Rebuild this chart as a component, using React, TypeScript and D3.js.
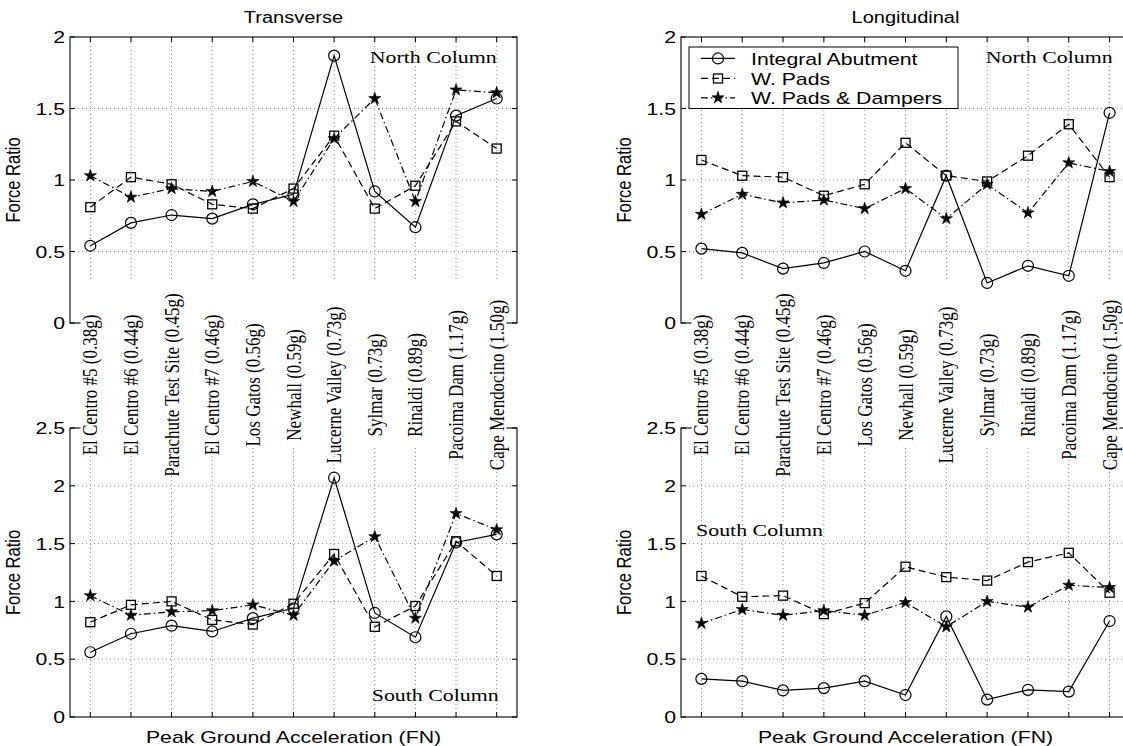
import React from "react";
import * as d3 from "d3";

// earthquake records, in the order they sit on the x axis
const categories = [
  "El Centro #5 (0.38g)",
  "El Centro #6 (0.44g)",
  "Parachute Test Site (0.45g)",
  "El Centro #7 (0.46g)",
  "Los Gatos (0.56g)",
  "Newhall (0.59g)",
  "Lucerne Valley (0.73g)",
  "Sylmar (0.73g)",
  "Rinaldi (0.89g)",
  "Pacoima Dam (1.17g)",
  "Cape Mendocino (1.50g)",
];

const seriesNames = ["Integral Abutment", "W. Pads", "W. Pads & Dampers"];

// Transverse, north column
const transNorthIntegral = [0.54, 0.7, 0.755, 0.73, 0.83, 0.9, 1.87, 0.92, 0.67, 1.45, 1.57];
const transNorthPads = [0.81, 1.02, 0.97, 0.83, 0.8, 0.94, 1.31, 0.8, 0.96, 1.41, 1.22];
const transNorthDampers = [1.03, 0.88, 0.94, 0.92, 0.99, 0.85, 1.29, 1.57, 0.85, 1.63, 1.61];

// Longitudinal, north column
const longNorthIntegral = [0.52, 0.49, 0.38, 0.42, 0.5, 0.365, 1.03, 0.28, 0.4, 0.33, 1.47];
const longNorthPads = [1.14, 1.03, 1.02, 0.89, 0.97, 1.26, 1.03, 0.99, 1.17, 1.39, 1.02];
const longNorthDampers = [0.76, 0.9, 0.84, 0.86, 0.8, 0.94, 0.73, 0.97, 0.77, 1.12, 1.06];

// Transverse, south column
const transSouthIntegral = [0.56, 0.72, 0.79, 0.74, 0.855, 0.94, 2.07, 0.9, 0.69, 1.51, 1.58];
const transSouthPads = [0.82, 0.97, 1.0, 0.84, 0.8, 0.98, 1.41, 0.78, 0.96, 1.52, 1.22];
const transSouthDampers = [1.05, 0.88, 0.91, 0.92, 0.97, 0.88, 1.35, 1.56, 0.855, 1.76, 1.62];

// Longitudinal, south column
const longSouthIntegral = [0.33, 0.31, 0.23, 0.25, 0.31, 0.19, 0.87, 0.15, 0.235, 0.22, 0.83];
const longSouthPads = [1.22, 1.04, 1.05, 0.89, 0.985, 1.3, 1.21, 1.18, 1.34, 1.42, 1.075];
const longSouthDampers = [0.81, 0.93, 0.88, 0.92, 0.88, 0.99, 0.78, 1.0, 0.95, 1.14, 1.12];

const topTicks = [0, 0.5, 1, 1.5, 2];
const bottomTicks = [0, 0.5, 1, 1.5, 2, 2.5];

const SANS = "'Liberation Sans', Arial, Helvetica, sans-serif";
const SERIF = "'Liberation Serif', 'Times New Roman', serif";
const STRETCH = 1.25; // the scanned figure is a bit wider than tall

const xLeft = d3.scaleLinear().domain([0.5, 11.5]).range([70, 517]);
const xRight = d3.scaleLinear().domain([0.5, 11.5]).range([681, 1130]);
const yTop = d3.scaleLinear().domain([0, 2]).range([323, 37]);
const yBottom = d3.scaleLinear().domain([0, 2.5]).range([717, 428]);

const styles = [
  { dash: undefined, marker: "circle" },
  { dash: "7,4", marker: "square" },
  { dash: "7,3,1.5,3", marker: "star" },
];

const starPath = d3.symbol(d3.symbolStar, 46)() as string;

function Marker({ kind, x, y }: { kind: string; x: number; y: number }) {
  if (kind === "circle")
    return <circle cx={x} cy={y} r={5.5} fill="none" stroke="#000" strokeWidth={1.2} />;
  if (kind === "square")
    return <rect x={x - 4.5} y={y - 4.5} width={9} height={9} fill="none" stroke="#000" strokeWidth={1.3} />;
  return <path d={starPath} transform={`translate(${x},${y})`} fill="#000" stroke="#000" strokeWidth={0.6} />;
}

function SText(props: any) {
  const { x, y, size, family, anchor, rotate, dy, children } = props;
  const t = `translate(${x},${y}) scale(${STRETCH},1)` + (rotate ? " rotate(-90)" : "");
  return (
    <text transform={t} fontSize={size} fontFamily={family || SANS} textAnchor={anchor || "start"} dy={dy} fill="#000">
      {children}
    </text>
  );
}

function Frame({ xs, ys, ticks }: any) {
  const [x0, x1] = xs.range();
  const [yb, yt] = ys.range();
  const cats = categories.map((_, i) => i + 1);
  return (
    <g>
      {cats.map((c) => (
        <line key={"gv" + c} x1={xs(c)} x2={xs(c)} y1={yb} y2={yt} stroke="#777" strokeWidth={0.8} strokeDasharray="1,3" />
      ))}
      {ticks.slice(1, -1).map((t: number) => (
        <line key={"gh" + t} x1={x0} x2={x1} y1={ys(t)} y2={ys(t)} stroke="#777" strokeWidth={0.8} strokeDasharray="1,3" />
      ))}
      {cats.map((c) => (
        <g key={"tx" + c}>
          <line x1={xs(c)} x2={xs(c)} y1={yb} y2={yb - 5} stroke="#000" />
          <line x1={xs(c)} x2={xs(c)} y1={yt} y2={yt + 5} stroke="#000" />
        </g>
      ))}
      {ticks.map((t: number) => (
        <g key={"ty" + t}>
          <line x1={x0} x2={x0 + 5} y1={ys(t)} y2={ys(t)} stroke="#000" />
          <line x1={x1} x2={x1 - 5} y1={ys(t)} y2={ys(t)} stroke="#000" />
          <SText x={x0 - 5} y={ys(t)} size={17} anchor="end" dy="0.36em">
            {String(t)}
          </SText>
        </g>
      ))}
      <rect x={x0} y={yt} width={x1 - x0} height={yb - yt} fill="none" stroke="#000" strokeWidth={1.1} />
      <SText x={x0 - 50} y={(yb + yt) / 2} size={16.5} anchor="middle" rotate>
        Force Ratio
      </SText>
    </g>
  );
}

function Series({ xs, ys, data }: any) {
  return (
    <g>
      {data.map((vals: number[], s: number) => {
        const line = d3
          .line<number>()
          .x((_, i) => xs(i + 1))
          .y((d) => ys(d));
        return (
          <g key={s}>
            <path d={line(vals) as string} fill="none" stroke="#000" strokeWidth={1.2} strokeDasharray={styles[s].dash} />
            {vals.map((v, i) => (
              <Marker key={i} kind={styles[s].marker} x={xs(i + 1)} y={ys(v)} />
            ))}
          </g>
        );
      })}
    </g>
  );
}

const panels = [
  { xs: xLeft, ys: yTop, ticks: topTicks, data: [transNorthIntegral, transNorthPads, transNorthDampers] },
  { xs: xRight, ys: yTop, ticks: topTicks, data: [longNorthIntegral, longNorthPads, longNorthDampers] },
  { xs: xLeft, ys: yBottom, ticks: bottomTicks, data: [transSouthIntegral, transSouthPads, transSouthDampers] },
  { xs: xRight, ys: yBottom, ticks: bottomTicks, data: [longSouthIntegral, longSouthPads, longSouthDampers] },
];

function LabelBand({ xs }: any) {
  return (
    <g>
      <rect x={xs(0.76)} y={280} width={xs(11.24) - xs(0.76)} height={165} fill="#fff" />
      {categories.map((c, i) => (
        <SText key={c} x={xs(i + 1)} y={385} size={17} family={SERIF} anchor="middle" dy="0.33em" rotate>
          {c}
        </SText>
      ))}
    </g>
  );
}

function Legend() {
  const lx = 689, ly = 47;
  const rows = [yTop(1.85), yTop(1.71), yTop(1.575)];
  return (
    <g>
      <rect x={lx} y={ly} width={269} height={yTop(1.5) - ly} fill="#fff" stroke="#000" strokeWidth={1} />
      {seriesNames.map((n, s) => (
        <g key={n}>
          <line x1={lx + 12} x2={lx + 46} y1={rows[s]} y2={rows[s]} stroke="#000" strokeWidth={1.2} strokeDasharray={styles[s].dash} />
          <Marker kind={styles[s].marker} x={lx + 29} y={rows[s]} />
          <SText x={lx + 62} y={rows[s]} size={17} dy="0.36em">
            {n}
          </SText>
        </g>
      ))}
    </g>
  );
}

export default function App() {
  return (
    <svg width={1123} height={746} style={{ position: "absolute", left: 0, top: 0, background: "#fff" }}>
      <rect width={1123} height={746} fill="#fff" />
      {panels.map((p, k) => (
        <Frame key={k} xs={p.xs} ys={p.ys} ticks={p.ticks} />
      ))}
      <LabelBand xs={xLeft} />
      <LabelBand xs={xRight} />
      {panels.map((p, k) => (
        <Series key={k} xs={p.xs} ys={p.ys} data={p.data} />
      ))}
      <Legend />

      <SText x={(70 + 517) / 2} y={23} size={16} anchor="middle">Transverse</SText>
      <SText x={(681 + 1130) / 2} y={23} size={16} anchor="middle">Longitudinal</SText>

      <SText x={xLeft(11)} y={yTop(1.86)} size={17.5} family={SERIF} anchor="end" dy="0.35em">North Column</SText>
      <SText x={xRight(11) + 3} y={yTop(1.86)} size={17.5} family={SERIF} anchor="end" dy="0.35em">North Column</SText>
      <SText x={xLeft(11) + 2} y={yBottom(0.19)} size={17.5} family={SERIF} anchor="end" dy="0.35em">South Column</SText>
      <SText x={xRight(0.87)} y={yBottom(1.62)} size={17.5} family={SERIF} dy="0.35em">South Column</SText>

      <SText x={(70 + 517) / 2} y={743} size={17} anchor="middle">Peak Ground Acceleration (FN)</SText>
      <SText x={(681 + 1130) / 2} y={743} size={17} anchor="middle">Peak Ground Acceleration (FN)</SText>
    </svg>
  );
}
